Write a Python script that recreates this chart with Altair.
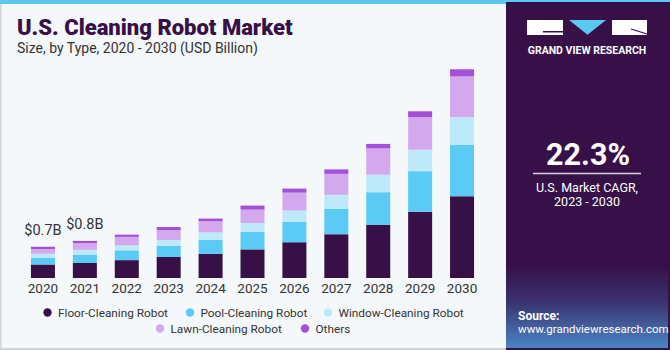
import altair as alt
import pandas as pd

# ---------------- data ----------------
years = [str(y) for y in range(2020, 2031)]
types = ["Floor-Cleaning Robot", "Pool-Cleaning Robot", "Window-Cleaning Robot",
         "Lawn-Cleaning Robot", "Others"]
floor = [0.30, 0.335, 0.40, 0.47, 0.54, 0.64, 0.80, 0.98, 1.19, 1.48, 1.83]
pool = [0.15, 0.19, 0.22, 0.25, 0.31, 0.39, 0.46, 0.57, 0.73, 0.91, 1.15]
window = [0.09, 0.105, 0.11, 0.13, 0.17, 0.20, 0.25, 0.31, 0.39, 0.48, 0.62]
lawn = [0.11, 0.15, 0.19, 0.22, 0.25, 0.30, 0.40, 0.47, 0.59, 0.73, 0.91]
others = [0.05, 0.05, 0.05, 0.07, 0.06, 0.09, 0.09, 0.10, 0.10, 0.13, 0.16]
labeled_years = ["2020", "2021"]
cagr = "22.3%"

colors = ["#361046", "#5BCAF5", "#BDE9FA", "#D4A8EC", "#A44FD8"]
FONT = "Roboto"
TXT = "#333333"

series = [floor, pool, window, lawn, others]
rows = []
for ti, (t, vals) in enumerate(zip(types, series)):
    for y, v in zip(years, vals):
        rows.append({"year": y, "type": t, "value": v, "order": ti})
df = pd.DataFrame(rows)

totals = df.groupby("year", as_index=False)["value"].sum()
totals = totals[totals["year"].isin(labeled_years)].copy()
totals["label"] = totals["value"].map(lambda v: f"${v:.1f}B")

year_df = pd.DataFrame({"year": years})

xscale = alt.Scale(domain=years, range=[22, 483], paddingInner=0.427, paddingOuter=0.2135)
yscale = alt.Scale(domain=[0, 6.22], range=[278, 0], nice=False, zero=True)

one = pd.DataFrame({"a": [0]})


def rect(x, x2, y, y2, color, **kw):
    return alt.Chart(one).mark_rect(color=color, **kw).encode(
        x=alt.value(x), x2=alt.value(x2), y=alt.value(y), y2=alt.value(y2))


def text(t, x, y, size, color=TXT, weight="normal", align="left", font=FONT, **kw):
    return alt.Chart(one).mark_text(
        text=t, fontSize=size, color=color, fontWeight=weight, align=align,
        baseline="middle", font=font, **kw).encode(x=alt.value(x), y=alt.value(y))


layers = []
# frame
layers.append(rect(0, 670, 0, 4, "#5BC8F0"))
layers.append(rect(0, 1.5, 4, 350, "#D0D4D8"))
layers.append(rect(0, 670, 348, 350, "#D0D4D8"))
# right panel
layers.append(rect(506, 670, 2, 350, "#361046"))
layers.append(alt.Chart(one).mark_rect(
    color=alt.Gradient(gradient="linear", x1=0, x2=0, y1=0, y2=1, stops=[
        alt.GradientStop(color="#361046", offset=0),
        alt.GradientStop(color="#3A3270", offset=0.45),
        alt.GradientStop(color="#4A86C4", offset=1)])
).encode(x=alt.value(506), x2=alt.value(668), y=alt.value(265), y2=alt.value(348)))

# logo
layers.append(rect(527, 563, 20, 35, "white"))
layers.append(rect(543, 563, 31, 32.5, "#361046"))
layers.append(rect(612, 647, 20, 35, "white"))
layers.append(alt.Chart(one).mark_rule(color="#361046", strokeWidth=1.2).encode(
    x=alt.value(631), x2=alt.value(647), y=alt.value(29), y2=alt.value(34)))
layers.append(alt.Chart(one).mark_point(
    shape="M-1,-0.4L1,-0.4L0,0.4Z", size=1369, filled=True, color="#5BC8F0", opacity=1
).encode(x=alt.value(587.5), y=alt.value(27.4)))
layers.append(text("GRAND VIEW RESEARCH", 587, 50.5, 10.5, color="white", weight="bold",
                   align="center"))

# CAGR block
layers.append(text(cagr, 588, 156, 30.5, color="white", weight="bold", align="center"))
layers.append(alt.Chart(one).mark_rule(color="#D8D0E0", strokeWidth=1.5).encode(
    x=alt.value(533), x2=alt.value(641), y=alt.value(173.5)))
layers.append(text("U.S. Market CAGR,", 587, 188, 12.5, color="white", align="center"))
layers.append(text("2023 - 2030", 587, 201.5, 12.5, color="white", align="center"))
layers.append(text("Source:", 518, 315.5, 12, color="white", weight="bold"))
layers.append(text("www.grandviewresearch.com", 518, 329.5, 11.5, color="white"))

# titles
layers.append(text("U.S. Cleaning Robot Market", 17, 28, 22, color="#361046", weight=900))
layers.append(text("Size, by Type, 2020 - 2030 (USD Billion)", 17, 49, 14, color=TXT))

# bars
bars = alt.Chart(df).mark_bar().encode(
    x=alt.X("year:N", scale=xscale, axis=None),
    y=alt.Y("value:Q", stack="zero", scale=yscale, axis=None),
    color=alt.Color("type:N", scale=alt.Scale(domain=types, range=colors), legend=None),
    order=alt.Order("order:Q", sort="ascending"),
)
layers.append(bars)

labels = alt.Chart(totals).mark_text(
    fontSize=14.5, color=TXT, font=FONT, baseline="middle", dy=-15.5
).encode(x=alt.X("year:N", scale=xscale), y=alt.Y("value:Q", scale=yscale), text="label:N")
layers.append(labels)

xlabels = alt.Chart(year_df).mark_text(
    fontSize=13.5, color=TXT, font=FONT, baseline="middle"
).encode(x=alt.X("year:N", scale=xscale), y=alt.value(289), text="year:N")
layers.append(xlabels)

# legend (drawn manually)
legend_pos = [(47.5, 312.5), (190, 312.5), (328, 312.5), (160, 328.5), (305, 328.5)]
for t, c, (lx, ly) in zip(types, colors, legend_pos):
    layers.append(alt.Chart(one).mark_point(
        shape="circle", filled=True, size=70, color=c, opacity=1
    ).encode(x=alt.value(lx), y=alt.value(ly)))
    layers.append(text(t, lx + 10.5, ly, 11.8, color=TXT))

chart = alt.layer(*layers).properties(
    width=670, height=350, autosize=alt.AutoSizeParams(type="none"), padding=0,
    background="#F4F8FB",
).configure_view(stroke=None)

chart.save("out.html", embed_options={"renderer": "svg", "actions": False})
